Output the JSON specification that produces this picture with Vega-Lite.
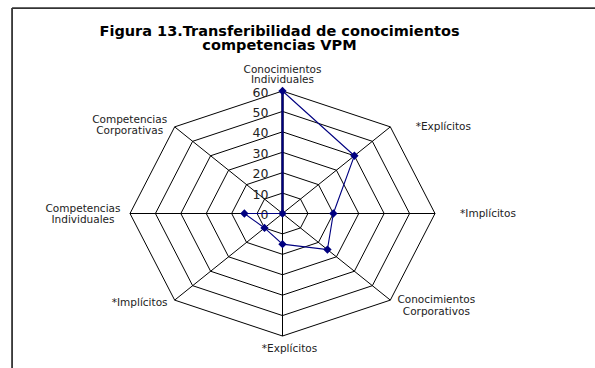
{
  "$schema": "https://vega.github.io/schema/vega-lite/v6.json",
  "autosize": {"type": "none"},
  "width": 305,
  "height": 245,
  "padding": {"left": 130, "top": 91, "right": 160, "bottom": 32},
  "background": "white",
  "config": {"view": {"stroke": null}},
  "title": {
    "text": ["Figura 13.Transferibilidad de  conocimientos", "competencias VPM"],
    "font": "DejaVu Sans",
    "fontWeight": "bold",
    "fontSize": 14.5,
    "lineHeight": 14.5,
    "color": "black",
    "anchor": "middle",
    "frame": "group",
    "dx": -3,
    "offset": -46.5
  },
  "datasets": {
    "frame": [{"edge": "chart"}],
    "series": [
      {"label": "Conocimientos\nIndividuales", "idx": 0, "value": 60},
      {"label": "*Explícitos", "idx": 1, "value": 40},
      {"label": "*Implícitos", "idx": 2, "value": 20},
      {"label": "Conocimientos\nCorporativos", "idx": 3, "value": 25},
      {"label": "*Explícitos", "idx": 4, "value": 15},
      {"label": "*Implícitos", "idx": 5, "value": 10},
      {"label": "Competencias\nIndividuales", "idx": 6, "value": 15},
      {"label": "Competencias\nCorporativas", "idx": 7, "value": 0}
    ],
    "rings": [
      {"level": 10, "idx": [0, 1, 2, 3, 4, 5, 6, 7]},
      {"level": 20, "idx": [0, 1, 2, 3, 4, 5, 6, 7]},
      {"level": 30, "idx": [0, 1, 2, 3, 4, 5, 6, 7]},
      {"level": 40, "idx": [0, 1, 2, 3, 4, 5, 6, 7]},
      {"level": 50, "idx": [0, 1, 2, 3, 4, 5, 6, 7]},
      {"level": 60, "idx": [0, 1, 2, 3, 4, 5, 6, 7]}
    ],
    "ticks": [
      {"level": 0}, {"level": 10}, {"level": 20}, {"level": 30},
      {"level": 40}, {"level": 50}, {"level": 60}
    ]
  },
  "layer": [
    {
      "data": {"name": "frame"},
      "mark": {"type": "rule", "color": "#333333", "strokeWidth": 1.8, "clip": false},
      "encoding": {
        "x": {"datum": -106.4, "type": "quantitative", "scale": {"domain": [-60, 60], "nice": false, "zero": false}, "axis": null},
        "x2": {"datum": 130},
        "y": {"datum": 100.6, "type": "quantitative", "scale": {"domain": [-60, 60], "nice": false, "zero": false}, "axis": null}
      }
    },
    {
      "data": {"name": "frame"},
      "mark": {"type": "rule", "color": "#333333", "strokeWidth": 1.8, "clip": false},
      "encoding": {
        "x": {"datum": -106.4, "type": "quantitative"},
        "y": {"datum": 100.6, "type": "quantitative"},
        "y2": {"datum": -85}
      }
    },
    {
      "data": {"name": "rings"},
      "transform": [
        {"flatten": ["idx"]},
        {"calculate": "datum.level*sin(datum.idx*PI/4)", "as": "x"},
        {"calculate": "datum.level*cos(datum.idx*PI/4)", "as": "y"}
      ],
      "mark": {"type": "line", "interpolate": "linear-closed", "color": "black", "strokeWidth": 1},
      "encoding": {
        "x": {"field": "x", "type": "quantitative"},
        "y": {"field": "y", "type": "quantitative"},
        "detail": {"field": "level"},
        "order": {"field": "idx"}
      }
    },
    {
      "data": {"name": "series"},
      "transform": [
        {"calculate": "60*sin(datum.idx*PI/4)", "as": "vx"},
        {"calculate": "60*cos(datum.idx*PI/4)", "as": "vy"},
        {"calculate": "0", "as": "o"}
      ],
      "mark": {"type": "rule", "color": "black", "strokeWidth": 1},
      "encoding": {
        "x": {"field": "o", "type": "quantitative"},
        "y": {"field": "o", "type": "quantitative"},
        "x2": {"field": "vx"},
        "y2": {"field": "vy"}
      }
    },
    {
      "data": {"name": "ticks"},
      "transform": [{"filter": "datum.level == 60"}, {"calculate": "0", "as": "o"}],
      "mark": {"type": "rule", "color": "#000050", "strokeWidth": 2.6},
      "encoding": {
        "x": {"field": "o", "type": "quantitative"},
        "y": {"field": "o", "type": "quantitative"},
        "y2": {"field": "level"}
      }
    },
    {
      "data": {"name": "ticks"},
      "transform": [{"calculate": "0", "as": "o"}],
      "mark": {"type": "text", "align": "right", "baseline": "middle", "dx": -14, "dy": 1.5, "font": "DejaVu Sans", "fontSize": 12.5, "color": "#222222"},
      "encoding": {
        "x": {"field": "o", "type": "quantitative"},
        "y": {"field": "level", "type": "quantitative"},
        "text": {"field": "level"}
      }
    },
    {
      "data": {"name": "series"},
      "transform": [
        {"calculate": "datum.value*sin(datum.idx*PI/4)", "as": "x"},
        {"calculate": "datum.value*cos(datum.idx*PI/4)", "as": "y"}
      ],
      "layer": [
        {
          "mark": {"type": "line", "interpolate": "linear-closed", "color": "#000080", "strokeWidth": 1.1},
          "encoding": {
            "x": {"field": "x", "type": "quantitative"},
            "y": {"field": "y", "type": "quantitative"},
            "order": {"field": "idx"}
          }
        },
        {
          "mark": {"type": "point", "shape": "diamond", "filled": true, "color": "#000080", "size": 70, "opacity": 1},
          "encoding": {
            "x": {"field": "x", "type": "quantitative"},
            "y": {"field": "y", "type": "quantitative"}
          }
        }
      ]
    },
    {
      "data": {"name": "series"},
      "transform": [
        {"calculate": "60*sin(datum.idx*PI/4)", "as": "vx"},
        {"calculate": "60*cos(datum.idx*PI/4)", "as": "vy"}
      ],
      "layer": [
        {
          "transform": [{"filter": "datum.idx == 0"}],
          "mark": {"type": "text", "align": "center", "baseline": "middle", "lineBreak": "\n", "dy": -21.5, "font": "DejaVu Sans", "fontSize": 10.5, "lineHeight": 10.8, "color": "#222222"},
          "encoding": {"x": {"field": "vx", "type": "quantitative"}, "y": {"field": "vy", "type": "quantitative"}, "text": {"field": "label"}}
        },
        {
          "transform": [{"filter": "datum.idx == 1 || datum.idx == 2"}],
          "mark": {"type": "text", "align": "center", "baseline": "middle", "lineBreak": "\n", "dx": 53, "dy": 0, "font": "DejaVu Sans", "fontSize": 10.5, "lineHeight": 10.5, "color": "#222222"},
          "encoding": {"x": {"field": "vx", "type": "quantitative"}, "y": {"field": "vy", "type": "quantitative"}, "text": {"field": "label"}}
        },
        {
          "transform": [{"filter": "datum.idx == 3"}],
          "mark": {"type": "text", "align": "center", "baseline": "middle", "lineBreak": "\n", "dx": 46, "dy": 0, "font": "DejaVu Sans", "fontSize": 10.5, "lineHeight": 11.5, "color": "#222222"},
          "encoding": {"x": {"field": "vx", "type": "quantitative"}, "y": {"field": "vy", "type": "quantitative"}, "text": {"field": "label"}}
        },
        {
          "transform": [{"filter": "datum.idx == 4"}],
          "mark": {"type": "text", "align": "center", "baseline": "middle", "lineBreak": "\n", "dx": 7, "dy": 13, "font": "DejaVu Sans", "fontSize": 10.5, "lineHeight": 10.5, "color": "#222222"},
          "encoding": {"x": {"field": "vx", "type": "quantitative"}, "y": {"field": "vy", "type": "quantitative"}, "text": {"field": "label"}}
        },
        {
          "transform": [{"filter": "datum.idx == 5"}],
          "mark": {"type": "text", "align": "center", "baseline": "middle", "lineBreak": "\n", "dx": -35, "dy": 3, "font": "DejaVu Sans", "fontSize": 10.5, "lineHeight": 10.5, "color": "#222222"},
          "encoding": {"x": {"field": "vx", "type": "quantitative"}, "y": {"field": "vy", "type": "quantitative"}, "text": {"field": "label"}}
        },
        {
          "transform": [{"filter": "datum.idx == 6"}],
          "mark": {"type": "text", "align": "center", "baseline": "middle", "lineBreak": "\n", "dx": -47, "dy": -4.5, "font": "DejaVu Sans", "fontSize": 10.5, "lineHeight": 11, "color": "#222222"},
          "encoding": {"x": {"field": "vx", "type": "quantitative"}, "y": {"field": "vy", "type": "quantitative"}, "text": {"field": "label"}}
        },
        {
          "transform": [{"filter": "datum.idx == 7"}],
          "mark": {"type": "text", "align": "center", "baseline": "middle", "lineBreak": "\n", "dx": -45, "dy": -7, "font": "DejaVu Sans", "fontSize": 10.5, "lineHeight": 10.8, "color": "#222222"},
          "encoding": {"x": {"field": "vx", "type": "quantitative"}, "y": {"field": "vy", "type": "quantitative"}, "text": {"field": "label"}}
        }
      ]
    }
  ]
}
